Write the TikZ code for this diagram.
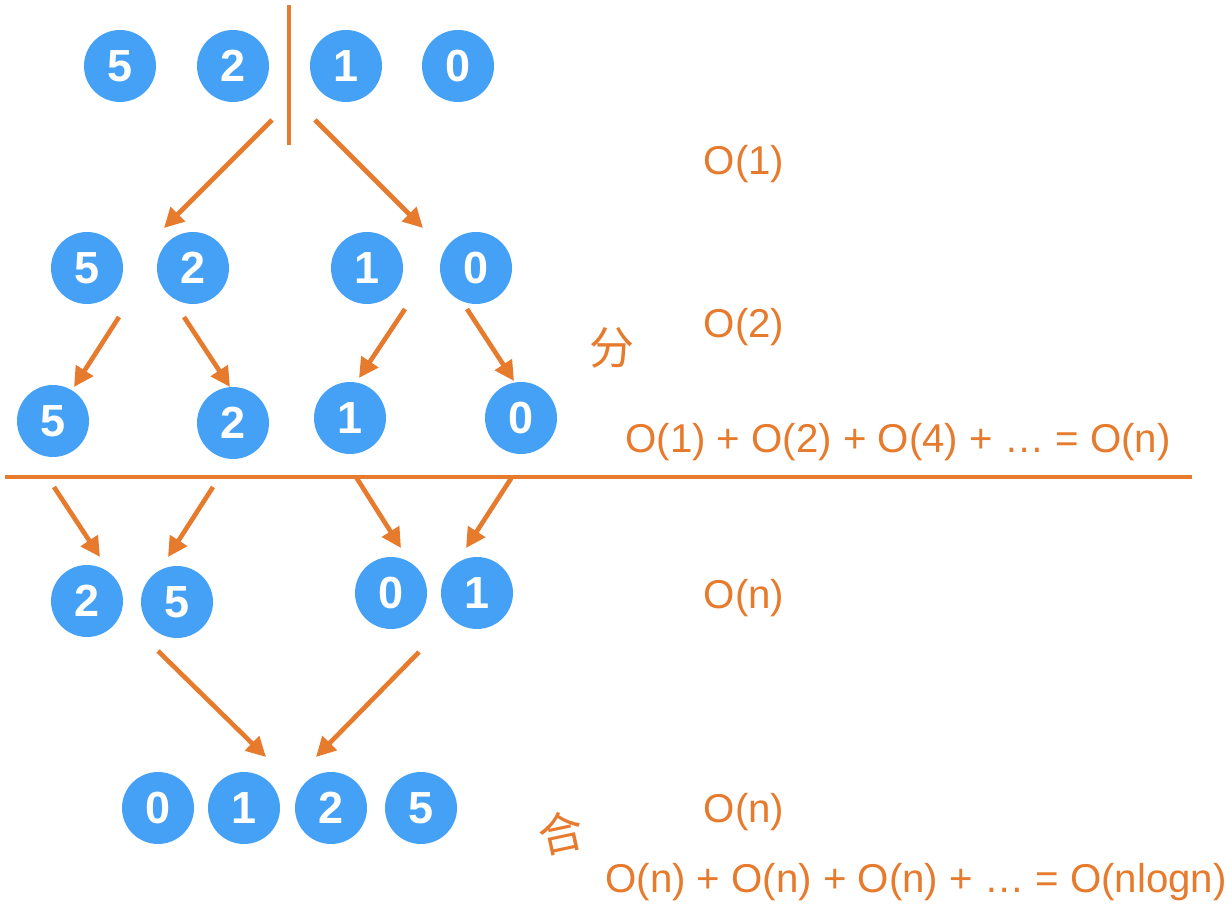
\documentclass[tikz,border=0pt]{standalone}
\usepackage{fontspec}
\setmainfont{Liberation Sans}
\newfontfamily\cjk{Noto Sans CJK SC}
\usetikzlibrary{arrows.meta}
\definecolor{ora}{RGB}{230,122,45}
\definecolor{blu}{RGB}{69,161,245}
\tikzset{
  num/.style={circle,fill=blu,draw=none,minimum size=51.2pt,inner sep=0pt,
    text=white,font=\fontsize{32}{32}\selectfont\bfseries},
  arr/.style={draw=ora,line width=3.3pt,-{Triangle[length=14pt,width=14pt]}},
  sep/.style={draw=ora,line width=2.2pt},
  lbl/.style={text=ora,font=\fontsize{28.6}{30}\selectfont,inner sep=0pt},
  hz/.style={text=ora,font=\cjk\fontsize{32}{32}\selectfont,inner sep=0pt}
}
\begin{document}
\begin{tikzpicture}[x=0.025cm,y=-0.025cm]
\useasboundingbox (0,0) rectangle (1232,905);
% row 1
\node[num] (a5) at (120,66) {5};
\node[num] (a2) at (233,66) {2};
\node[num] (a1) at (346,66) {1};
\node[num] (a0) at (458,66) {0};
% row 2
\node[num] (b5) at (87,268) {5};
\node[num] (b2) at (193,268) {2};
\node[num] (b1) at (367,268) {1};
\node[num] (b0) at (476,268) {0};
% row 3
\node[num] (c5) at (53,421) {5};
\node[num] (c2) at (233,423) {2};
\node[num] (c1) at (350,418) {1};
\node[num] (c0) at (521,418) {0};
% row 4
\node[num] (d2) at (87,601) {2};
\node[num] (d5) at (177,602) {5};
\node[num] (d0) at (391,593) {0};
\node[num] (d1) at (477,593) {1};
% row 5
\node[num] (e0) at (158,808) {0};
\node[num] (e1) at (244,808) {1};
\node[num] (e2) at (331,808) {2};
\node[num] (e5) at (421,808) {5};
% separators
\coordinate (vt) at (289,5);
\coordinate (vb) at (289,145);
\draw[sep] (vt) -- (vb);
\coordinate (hl) at (5,477);
\coordinate (hr) at (1192,477);
\draw[sep] (hl) -- (hr);
% arrow end points
\coordinate (p1s) at (272,120); \coordinate (p1e) at (164,228);
\coordinate (p2s) at (315,120); \coordinate (p2e) at (423,228);
\coordinate (p3s) at (119,317); \coordinate (p3e) at (74,387);
\coordinate (p4s) at (184,317); \coordinate (p4e) at (230,387);
\coordinate (p5s) at (405,309); \coordinate (p5e) at (359,378);
\coordinate (p6s) at (467,309); \coordinate (p6e) at (514,381);
\coordinate (p7s) at (54,487); \coordinate (p7e) at (100,557);
\coordinate (p8s) at (213,487); \coordinate (p8e) at (168,557);
\coordinate (p9s) at (356,477); \coordinate (p9e) at (401,548);
\coordinate (p10s) at (512,477); \coordinate (p10e) at (466,548);
\coordinate (p11s) at (158,651); \coordinate (p11e) at (266,757);
\coordinate (p12s) at (419,652); \coordinate (p12e) at (316,757);
\foreach \i in {1,...,12}{\draw[arr] (p\i s) -- (p\i e);}
% labels
\node[lbl] (t1) at (744,164) {O(1)};
\node[lbl] (t2) at (744,327) {O(2)};
\node[lbl] (t3) at (898,442) {O(1) + O(2) + O(4) + … = O(n)};
\node[lbl] (t4) at (744,598) {O(n)};
\node[lbl] (t5) at (744,812) {O(n)};
\node[lbl] (t6) at (916,882) {O(n) + O(n) + O(n) + … = O(nlogn)};
\node[hz] (fen) at (612,348) {分};
\node[hz,rotate=12] (he) at (561,833) {合};
\end{tikzpicture}
\end{document}
